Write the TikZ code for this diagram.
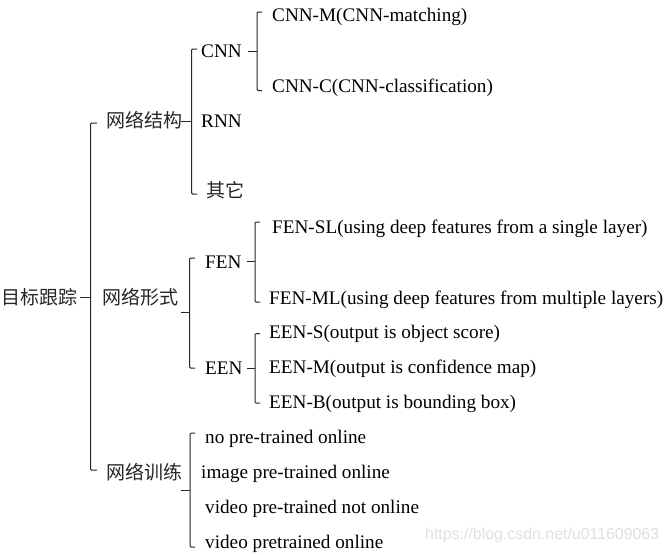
\documentclass[tikz,border=0pt]{standalone}
\usepackage{fontspec}
\setmainfont{Liberation Serif}
\newfontfamily\cjk{Noto Sans CJK SC}
\newfontfamily\wmfont{Liberation Sans}
\newcommand\mybracket[7]{%
  \coordinate (#1-m) at (#2,#3);
  \coordinate (#1-v) at (#4,#3);
  \coordinate (#1-t) at (#7,#5);
  \coordinate (#1-b) at (#7,#6);
  \draw[brk] (#1-m) -- (#1-v);
  \draw[brk,rounded corners=1.2] (#1-t) -| (#1-v) |- (#1-b);
}
\tikzset{
  brk/.style={line width=1pt, draw=black!85},
  lbl/.style={anchor=base west, inner sep=0pt, font=\fontsize{19.2}{19.2}\selectfont},
  zh/.style={anchor=base west, inner sep=0pt, font=\cjk\fontsize{19}{19}\selectfont, text=black!85},
  wm/.style={anchor=base west, inner sep=0pt, font=\wmfont\fontsize{15.9}{15.9}\selectfont, text=black!12}
}
\begin{document}
\begin{tikzpicture}[x=1pt,y=-1pt]
\useasboundingbox[fill=white] (0,0) rectangle (669,554);
% root and level 1
\node[zh] (root) at (1,304) {目标跟踪};
\node[zh] (jg) at (106,127.5) {网络结构};
\node[zh] (xs) at (102,304) {网络形式};
\node[zh] (xl) at (106,479.5) {网络训练};
% level 2
\node[lbl] (cnn) at (201,57) {CNN};
\node[lbl] (rnn) at (201,127) {RNN};
\node[zh] (qt) at (206,197.5) {其它};
\node[lbl] (fen) at (205,268) {FEN};
\node[lbl] (een) at (205,374) {EEN};
\node[lbl] (t1) at (205,443) {no pre-trained online};
\node[lbl] (t2) at (201,478) {image pre-trained online};
\node[lbl] (t3) at (205,513) {video pre-trained not online};
\node[lbl] (t4) at (205,548) {video pretrained online};
% level 3
\node[lbl] (cnnm) at (272,21.5) {CNN-M(CNN-matching)};
\node[lbl] (cnnc) at (272,92) {CNN-C(CNN-classification)};
\node[lbl] (fensl) at (272,233) {FEN-SL(using deep features from a single layer)};
\node[lbl] (fenml) at (269,304) {FEN-ML(using deep features from multiple layers)};
\node[lbl] (eens) at (269,338) {EEN-S(output is object score)};
\node[lbl] (eenm) at (269,373.5) {EEN-M(output is confidence map)};
\node[lbl] (eenb) at (269,408.5) {EEN-B(output is bounding box)};
% watermark
\node[wm] (wmk) at (425,539) {https://blog.csdn.net/u011609063};
% brackets: name, x0, ymid, xvert, ytop, ybot, xtick
\mybracket{b0}{80}{297}{90.5}{123}{470}{97}
\mybracket{b1}{181}{121.5}{191.5}{49}{194}{197}
\mybracket{b2}{181}{312}{189.5}{258}{368}{195}
\mybracket{b3}{181}{490}{190}{433}{547}{195}
\mybracket{b4}{248}{51.5}{257}{12}{90.5}{262}
\mybracket{b5}{246.5}{261.5}{255}{222}{302}{260}
\mybracket{b6}{247}{368}{255}{333.5}{403}{260}
\end{tikzpicture}
\end{document}
